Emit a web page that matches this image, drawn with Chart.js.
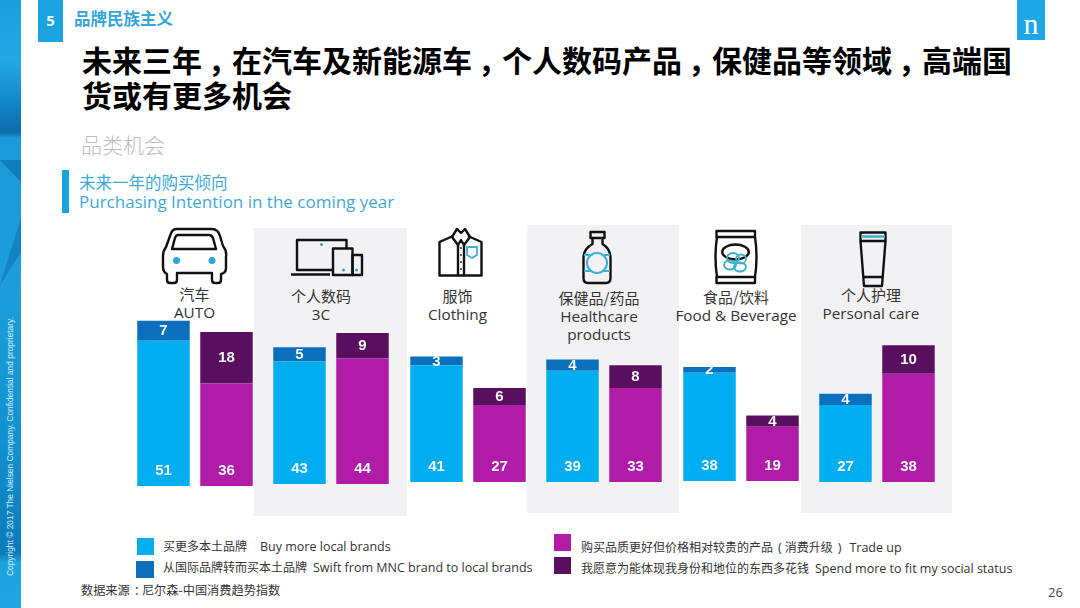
<!DOCTYPE html>
<html lang="zh">
<head>
<meta charset="utf-8">
<title>品牌民族主义</title>
<script src="https://cdn.jsdelivr.net/npm/chart.js@4"></script>
<style>
  html, body { margin: 0; padding: 0; background: #fff; }
  #page { position: relative; width: 1080px; height: 608px; overflow: hidden; background: #fff;
    font-family: "Noto Sans CJK SC", "Open Sans", sans-serif; }
  #page > * { position: absolute; }
  .t { white-space: nowrap; line-height: 1; }
  #side { left: 0; top: 0; }
  #copy { left: 10px; top: 576px; color: #d5eefa; font: 8.4px "Liberation Sans", sans-serif; white-space: nowrap;
    transform-origin: 0 0; transform: rotate(-90deg) translateY(-50%); }
  #tab { left: 38px; top: 0; width: 25px; height: 42px; background: #1aa3e0; color: #e8f7ff; text-align: center;
    font: bold 15px/40px "Open Sans", sans-serif; }
  #logo { left: 1017px; top: 0; width: 28px; height: 40px; background: #1ea7e6; color: #fff; text-align: center;
    font: 30px/48px "Liberation Serif", serif; }
  #title { left: 82px; top: 42px; width: 950px; color: #000; font-weight: 700; font-size: 30px; line-height: 35px; }
  .comma { padding-left: 6px; letter-spacing: -6px; }
  .panel { background: #f2f2f4; }
  .group { display: block; }
  .cat { color: #333; text-align: center; transform: translateX(-50%); font-size: 15px; line-height: 18px; white-space: nowrap; }
  .cat span { font-family: "Open Sans", sans-serif; font-size: 15.3px; }
  .sw { width: 17px; height: 17px; }
  .lg { font-size: 12px; color: #333; }
  .lg span { font-family: "Open Sans", sans-serif; font-size: 12.5px; }
</style>
</head>
<body>
<div id="page">
  <svg id="side" width="21" height="608">
    <defs>
      <linearGradient id="sideFill" x1="0" y1="0" x2="0" y2="1">
        <stop offset="0" stop-color="#1a9fdc"/>
        <stop offset="0.1" stop-color="#23a8e2"/>
        <stop offset="0.165" stop-color="#1488c8"/>
        <stop offset="0.217" stop-color="#0b6cab"/>
        <stop offset="0.227" stop-color="#1a9ad8"/>
        <stop offset="0.47" stop-color="#1c9cd9"/>
        <stop offset="0.72" stop-color="#1293d0"/>
        <stop offset="0.91" stop-color="#0d7ab9"/>
        <stop offset="0.925" stop-color="#1ca3dd"/>
        <stop offset="1" stop-color="#1fa5df"/>
      </linearGradient>
    </defs>
    <rect width="21" height="608" fill="url(#sideFill)"/>
    <polygon points="0,160 21,160 21,182" fill="#0c69a6" fill-opacity="0.6"/>
    <polygon points="21,218 21,252 0,285" fill="#1070b0" fill-opacity="0.6"/>
  </svg>
  <div id="copy">Copyright © 2017 The Nielsen Company. Confidential and proprietary.</div>
  <div id="tab">5</div>
  <div class="t" style="left:74px;top:10px;font-size:16.5px;font-weight:700;color:#36a5d8">品牌民族主义</div>
  <div id="logo">n</div>
  <div id="title">未来三年<span class="comma">，</span>在汽车及新能源车<span class="comma">，</span>个人数码产品<span class="comma">，</span>保健品等领域<span class="comma">，</span>高端国<br>货或有更多机会</div>
  <div class="t" style="left:81px;top:134px;font-size:21px;font-weight:300;color:#bdbdbd">品类机会</div>
  <div style="left:62px;top:170px;width:7px;height:43px;background:#1aa3e0"></div>
  <div class="t" style="left:79px;top:174px;font-size:16.5px;color:#3fa9d6">未来一年的购买倾向</div>
  <div class="t" style="left:79px;top:193px;font-size:17px;font-family:'Open Sans',sans-serif;color:#3fa9d6">Purchasing Intention in the coming year</div>

  <div class="panel" style="left:254px;top:228px;width:153px;height:288px"></div>
  <div class="panel" style="left:527px;top:225px;width:152px;height:288px"></div>
  <div class="panel" style="left:801px;top:225px;width:151px;height:288px"></div>

  <!-- Icons -->
  <svg style="left:0;top:0" width="1080" height="608" fill="none" stroke="#111" stroke-width="2.4" stroke-linejoin="round">
    <path d="M176 229H212Q218 229 220 236L223 246Q227 251 226 257V268Q226 273 221 274V280Q221 283 218 283H215Q212 283 212 280V273H177V280Q177 283 174 283H170Q167 283 167 280V274Q163 272 163 267V256Q163 251 166 247L170 236Q172 229 176 229Z"/>
    <path d="M178 235H209Q212 235 213 238L216 249H172L175 238Q176 235 178 235Z"/>
    <circle cx="176.5" cy="260.5" r="3.5" fill="#29a7dc" stroke="none"/>
    <circle cx="212" cy="260.5" r="3.5" fill="#29a7dc" stroke="none"/>

    <path d="M332 270H297V240H346.5V248"/>
    <path d="M291 274.5H330"/>
    <rect x="333" y="248.5" width="19.5" height="26.5"/>
    <rect x="352.5" y="255" width="9.5" height="20"/>
    <g fill="#3a9fc4" stroke="none"><circle cx="321.5" cy="244.5" r="1.5"/><circle cx="343.5" cy="270" r="1.5"/><circle cx="356.5" cy="270" r="1.5"/></g>

    <path d="M453 236L439.5 242V275.5H481.5V242L468 236"/>
    <path d="M452 237L457 229L461 233L465 229L470 237L464 245L461 240L458 245Z"/>
    <path d="M458 245V275.5M464 245V275.5"/>
    <g fill="#333" stroke="none"><circle cx="461" cy="248" r="1"/><circle cx="461" cy="255" r="1"/><circle cx="461" cy="262" r="1"/><circle cx="461" cy="269" r="1"/></g>
    <path d="M467 247H477V255L472 258L467 255Z" stroke="#3cb0cf" stroke-width="1.8"/>

    <rect x="590.5" y="232" width="14" height="6"/>
    <path d="M592.5 238V244Q583.5 249 583.5 258V278Q583.5 283 588 283H606Q610.5 283 610.5 278V258Q610.5 249 602.5 244V238"/>
    <g stroke="#3cb0cf" stroke-width="2"><circle cx="597" cy="263" r="10"/><path d="M584 255H590M604 255H610M584 271H590M604 271H610"/></g>

    <path d="M716.5 231H755V237H716.5ZM716.5 277H755V283H716.5Z"/>
    <path d="M717 237Q714 257 717 277M755 237Q758 257 755 277"/>
    <ellipse cx="735.5" cy="252" rx="13.3" ry="7.5"/>
    <g stroke="#3cb0cf" stroke-width="1.8"><ellipse cx="733" cy="258" rx="6" ry="5"/><ellipse cx="741" cy="259" rx="5" ry="4.5"/><ellipse cx="730" cy="265" rx="6" ry="4.5"/><ellipse cx="740" cy="267" rx="6" ry="4.5"/></g>

    <path d="M860.5 232.5H885.5V241H860.5Z"/>
    <path d="M861 236.5H885" stroke="#3cb0cf" stroke-width="2.5"/>
    <path d="M860.5 241L864 286H882L885.5 241M864 277H882"/>
  </svg>

  <div class="cat" style="left:194.5px;top:285px">汽车<br><span>AUTO</span></div>
  <div class="cat" style="left:321px;top:287px">个人数码<br><span>3C</span></div>
  <div class="cat" style="left:457.5px;top:287px">服饰<br><span>Clothing</span></div>
  <div class="cat" style="left:599px;top:289px">保健品/药品<br><span>Healthcare<br>products</span></div>
  <div class="cat" style="left:736px;top:288px">食品/饮料<br><span>Food &amp; Beverage</span></div>
  <div class="cat" style="left:871px;top:286px">个人护理<br><span>Personal care</span></div>

  <!-- One small chart per category, the baselines are not aligned in the original -->
  <canvas class="group" width="126" height="171" style="left:132px;top:315px"></canvas>
  <canvas class="group" width="126" height="171" style="left:268px;top:313px"></canvas>
  <canvas class="group" width="126" height="171" style="left:405px;top:311px"></canvas>
  <canvas class="group" width="126" height="171" style="left:541px;top:311px"></canvas>
  <canvas class="group" width="126" height="171" style="left:678px;top:310px"></canvas>
  <canvas class="group" width="126" height="171" style="left:814px;top:311px"></canvas>

  <!-- Legende -->
  <div class="sw" style="left:137px;top:538px;background:#00aeef"></div>
  <div class="sw" style="left:136px;top:561px;background:#0b6fbd;width:18px"></div>
  <div class="sw" style="left:554px;top:534px;background:#b01ca8"></div>
  <div class="sw" style="left:554px;top:557px;background:#5a0f5e"></div>
  <div class="t lg" style="left:163px;top:540px">买更多本土品牌<span style="margin-left:13px">Buy more local brands</span></div>
  <div class="t lg" style="left:163px;top:561px">从国际品牌转而买本土品牌<span style="margin-left:6px">Swift from MNC brand to local brands</span></div>
  <div class="t lg" style="left:581px;top:541px">购买品质更好但价格相对较贵的产品<span style="margin:0 3px 0 5px">(</span>消费升级<span style="margin:0 8px 0 5px">)</span><span>Trade up</span></div>
  <div class="t lg" style="left:581px;top:562px">我愿意为能体现我身份和地位的东西多花钱<span style="margin-left:6px">Spend more to fit my social status</span></div>

  <div class="t" style="left:81px;top:584px;font-size:12.2px;color:#333">数据来源<span style="padding-left:4px;letter-spacing:-4px">：</span>尼尔森-中国消费趋势指数</div>
  <div class="t" style="left:1048px;top:583px;font:13px 'Open Sans',sans-serif;color:#444">26</div>
</div>

<script>
const categories = ["汽车 AUTO", "个人数码 3C", "服饰 Clothing", "保健品/药品 Healthcare products", "食品/饮料 Food & Beverage", "个人护理 Personal care"];
const barLabels = ["本土品牌", "消费升级"];
const buyLocal = [51, 43, 41, 39, 38, 27];
const swiftMnc = [7, 5, 3, 4, 2, 4];
const tradeUp = [36, 44, 27, 33, 19, 38];
const spendMore = [18, 9, 6, 8, 4, 10];
const axisMax = 60;

// Zahlen auf den Balken: untere Werte knapp über der Basis, obere in der Mitte
const valueLabels = {
  id: "valueLabels",
  afterDatasetsDraw(chart) {
    const ctx = chart.ctx;
    ctx.save();
    ctx.font = "bold 15px 'Liberation Sans', sans-serif";
    ctx.fillStyle = "#f2f8fc";
    ctx.textAlign = "center";
    ctx.textBaseline = "middle";
    chart.data.datasets.forEach((ds, d) => {
      chart.getDatasetMeta(d).data.forEach((bar, i) => {
        if (ds.data[i] === null) return;
        const y = ds.lower ? bar.base - 15 : (bar.y + bar.base) / 2 + 0.5;
        ctx.fillText(ds.data[i], bar.x, y);
      });
    });
    ctx.restore();
  },
};

document.querySelectorAll("canvas.group").forEach((canvas, i) => {
  new Chart(canvas.getContext("2d"), {
    type: "bar",
    data: {
      labels: barLabels,
      datasets: [
        { label: "买更多本土品牌", data: [buyLocal[i], null], backgroundColor: "#00aeef", lower: true },
        { label: "从国际品牌转而买本土品牌", data: [swiftMnc[i], null], backgroundColor: "#0b6fbd" },
        { label: "购买品质更好但价格相对较贵的产品", data: [null, tradeUp[i]], backgroundColor: "#b01ca8", lower: true },
        { label: "我愿意为能体现我身份和地位的东西多花钱", data: [null, spendMore[i]], backgroundColor: "#5a0f5e" },
      ],
    },
    options: {
      responsive: false,
      animation: false,
      layout: { padding: 0 },
      datasets: { bar: { barPercentage: 0.833, categoryPercentage: 1 } },
      scales: {
        x: { display: false, stacked: true },
        y: { display: false, stacked: true, min: 0, max: axisMax },
      },
      plugins: {
        legend: { display: false },
        tooltip: { enabled: false },
        title: { display: false, text: categories[i] },
      },
    },
    plugins: [valueLabels],
  });
});
</script>
</body>
</html>
